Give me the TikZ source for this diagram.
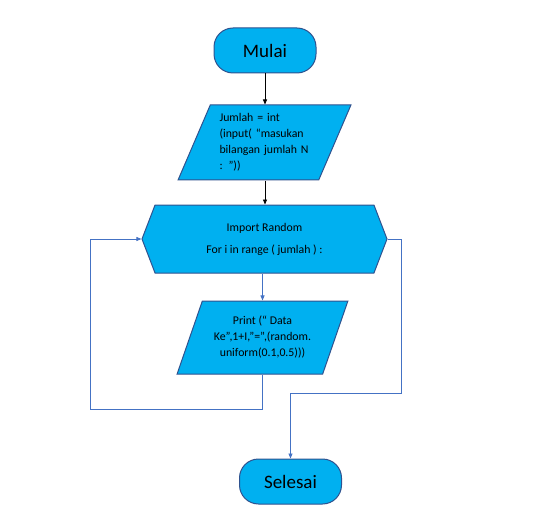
\documentclass[tikz,border=0pt]{standalone}
\usepackage{fontspec}
\setmainfont{Carlito}
\usetikzlibrary{shapes.geometric,shapes.symbols,arrows.meta}
\definecolor{boxfill}{HTML}{00B0F0}
\definecolor{boxline}{HTML}{2F528F}
\definecolor{flowline}{HTML}{4472C4}

\begin{document}
\begin{tikzpicture}[x=1pt,y=-1pt,
    terminal/.style={draw=boxline,fill=boxfill,line width=1pt,rounded corners=19pt,
      minimum width=102pt,minimum height=45pt,font=\fontsize{19}{23}\selectfont},
    io/.style={draw=boxline,fill=boxfill,line width=1pt,trapezium,trapezium left angle=66,
      trapezium right angle=114,trapezium stretches=true,minimum width=173pt,
      minimum height=75pt,font=\fontsize{11.8}{16}\selectfont},
    repeatbox/.style={draw=boxline,fill=boxfill,line width=1pt,signal,signal from=nowhere,
      signal to=west and east,signal pointer angle=138,minimum width=245pt,minimum height=68pt,
      font=\fontsize{11.8}{16}\selectfont},
    flow/.style={line width=0.8pt,-{Triangle[length=5pt,width=4pt]}}]
  \useasboundingbox (0,0) rectangle (541,524);

  \node[terminal] (mulai) at (265,50.5) {Mulai};
  \node[io,text width=90pt,align=left] (input) at (264.5,142.5)
    {Jumlah = int\\(input( “masukan\\bilangan jumlah N\\: ”))};
  \node[repeatbox,align=center] (for) at (264.5,239)
    {Import Random\\[6pt]For i in range ( jumlah ) :};
  \node[io,minimum height=73pt,minimum width=171pt,align=center] (print) at (262.5,337.5)
    {Print (“ Data\\Ke”,1+I,”=”,(random.\\uniform(0.1,0.5)))};
  \node[terminal] (selesai) at (290.5,481.5) {Selesai};

  \coordinate (back) at (90,409);
  \coordinate (out) at (401,393);

  \draw[flow] (mulai) -- (mulai |- input.north);
  \draw[flow] (input.south -| mulai) -- (mulai |- for.north);
  \draw[flow,flowline] (for.south -| print.north) -- (print.north);
  \draw[flow,flowline] (print.south) |- (back) |- (for.west);
  \draw[flow,flowline] (for.east) -| (out) -| (selesai.north);
\end{tikzpicture}
\end{document}
